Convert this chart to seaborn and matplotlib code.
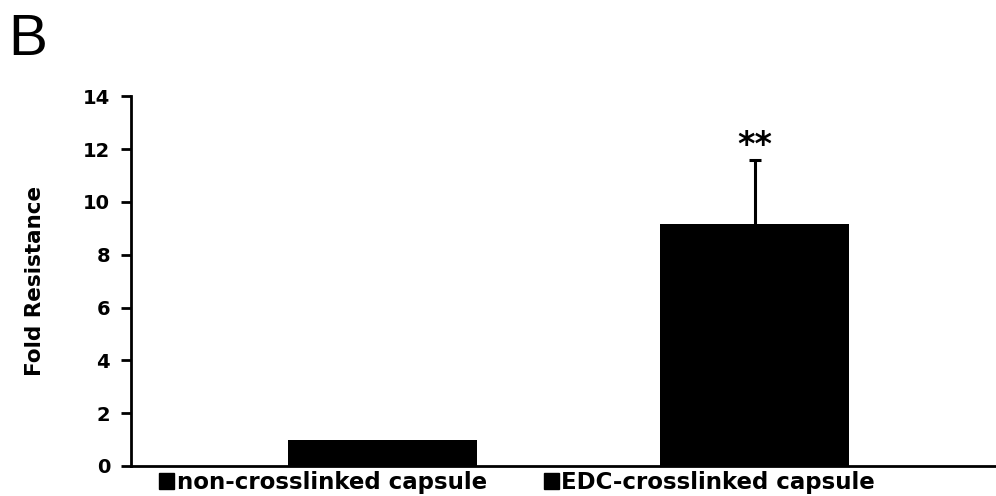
import matplotlib
matplotlib.use("Agg")
import matplotlib.pyplot as plt
from matplotlib.patches import Patch
import seaborn as sns
import pandas as pd

categories = ["non-crosslinked capsule", "EDC-crosslinked capsule"]
fold_resistance = [1.0, 9.15]
error_upper = [0.0, 2.45]
significance = ["", "**"]
y_ticks = [0, 2, 4, 6, 8, 10, 12, 14]

sns.set_theme(style="white")
plt.rcParams["font.family"] = ["DejaVu Sans"]
plt.rcParams["text.color"] = "black"
plt.rcParams["ytick.color"] = "black"
plt.rcParams["axes.labelcolor"] = "black"

df = pd.DataFrame({"condition": categories, "fold": fold_resistance})

fig = plt.figure(figsize=(9.96, 4.96), dpi=100)
ax = fig.add_axes([0.1315, 0.0605, 0.8685, 0.7455])

sns.barplot(data=df, x="condition", y="fold", color="black", width=0.508,
            errorbar=None, ax=ax, saturation=1)
for p in ax.patches:
    p.set_edgecolor("black")
    p.set_linewidth(0)

# upper-only error bars, drawn where an error is reported
for i, (v, e) in enumerate(zip(fold_resistance, error_upper)):
    if e > 0:
        _, caps, _ = ax.errorbar(x=[i], y=[v], yerr=[[0], [e]], fmt="none",
                                 ecolor="black", elinewidth=2.2, capsize=4.5,
                                 capthick=2.2)
        caps[0].set_visible(False)

for i, (v, e, s) in enumerate(zip(fold_resistance, error_upper, significance)):
    if s:
        ax.annotate(s, xy=(i, v + e), xytext=(0, 3), textcoords="offset points",
                    ha="center", va="baseline", fontsize=24, fontweight="bold",
                    color="black")

ax.set_xlim(-0.676, 1.649)
ax.set_ylim(0, 14)
ax.set_yticks(y_ticks)
ax.set_yticklabels([str(t) for t in y_ticks], fontsize=14, fontweight="bold")
ax.set_xticks([])
ax.set_xlabel("")
ax.set_ylabel("Fold Resistance", fontsize=15.5, fontweight="bold", labelpad=27)

for side in ("top", "right"):
    ax.spines[side].set_visible(False)
for side in ("left", "bottom"):
    ax.spines[side].set_color("black")
    ax.spines[side].set_linewidth(2)
ax.tick_params(axis="y", direction="out", length=7, width=2, color="black",
               left=True, pad=8)

handles = [Patch(facecolor="black", edgecolor="black", label=c) for c in categories]
fig.legend(handles=handles, loc="upper left", bbox_to_anchor=(0.16, 0.05),
           ncol=2, frameon=False, handlelength=0.66, handleheight=0.66,
           handletextpad=0.12, columnspacing=2.45, borderpad=0, borderaxespad=0,
           prop={"weight": "bold", "size": 16.5})

fig.text(0.008, 0.89, "B", fontsize=42, family="Liberation Sans", color="black")

fig.savefig("out.png", dpi=100, facecolor="white")
